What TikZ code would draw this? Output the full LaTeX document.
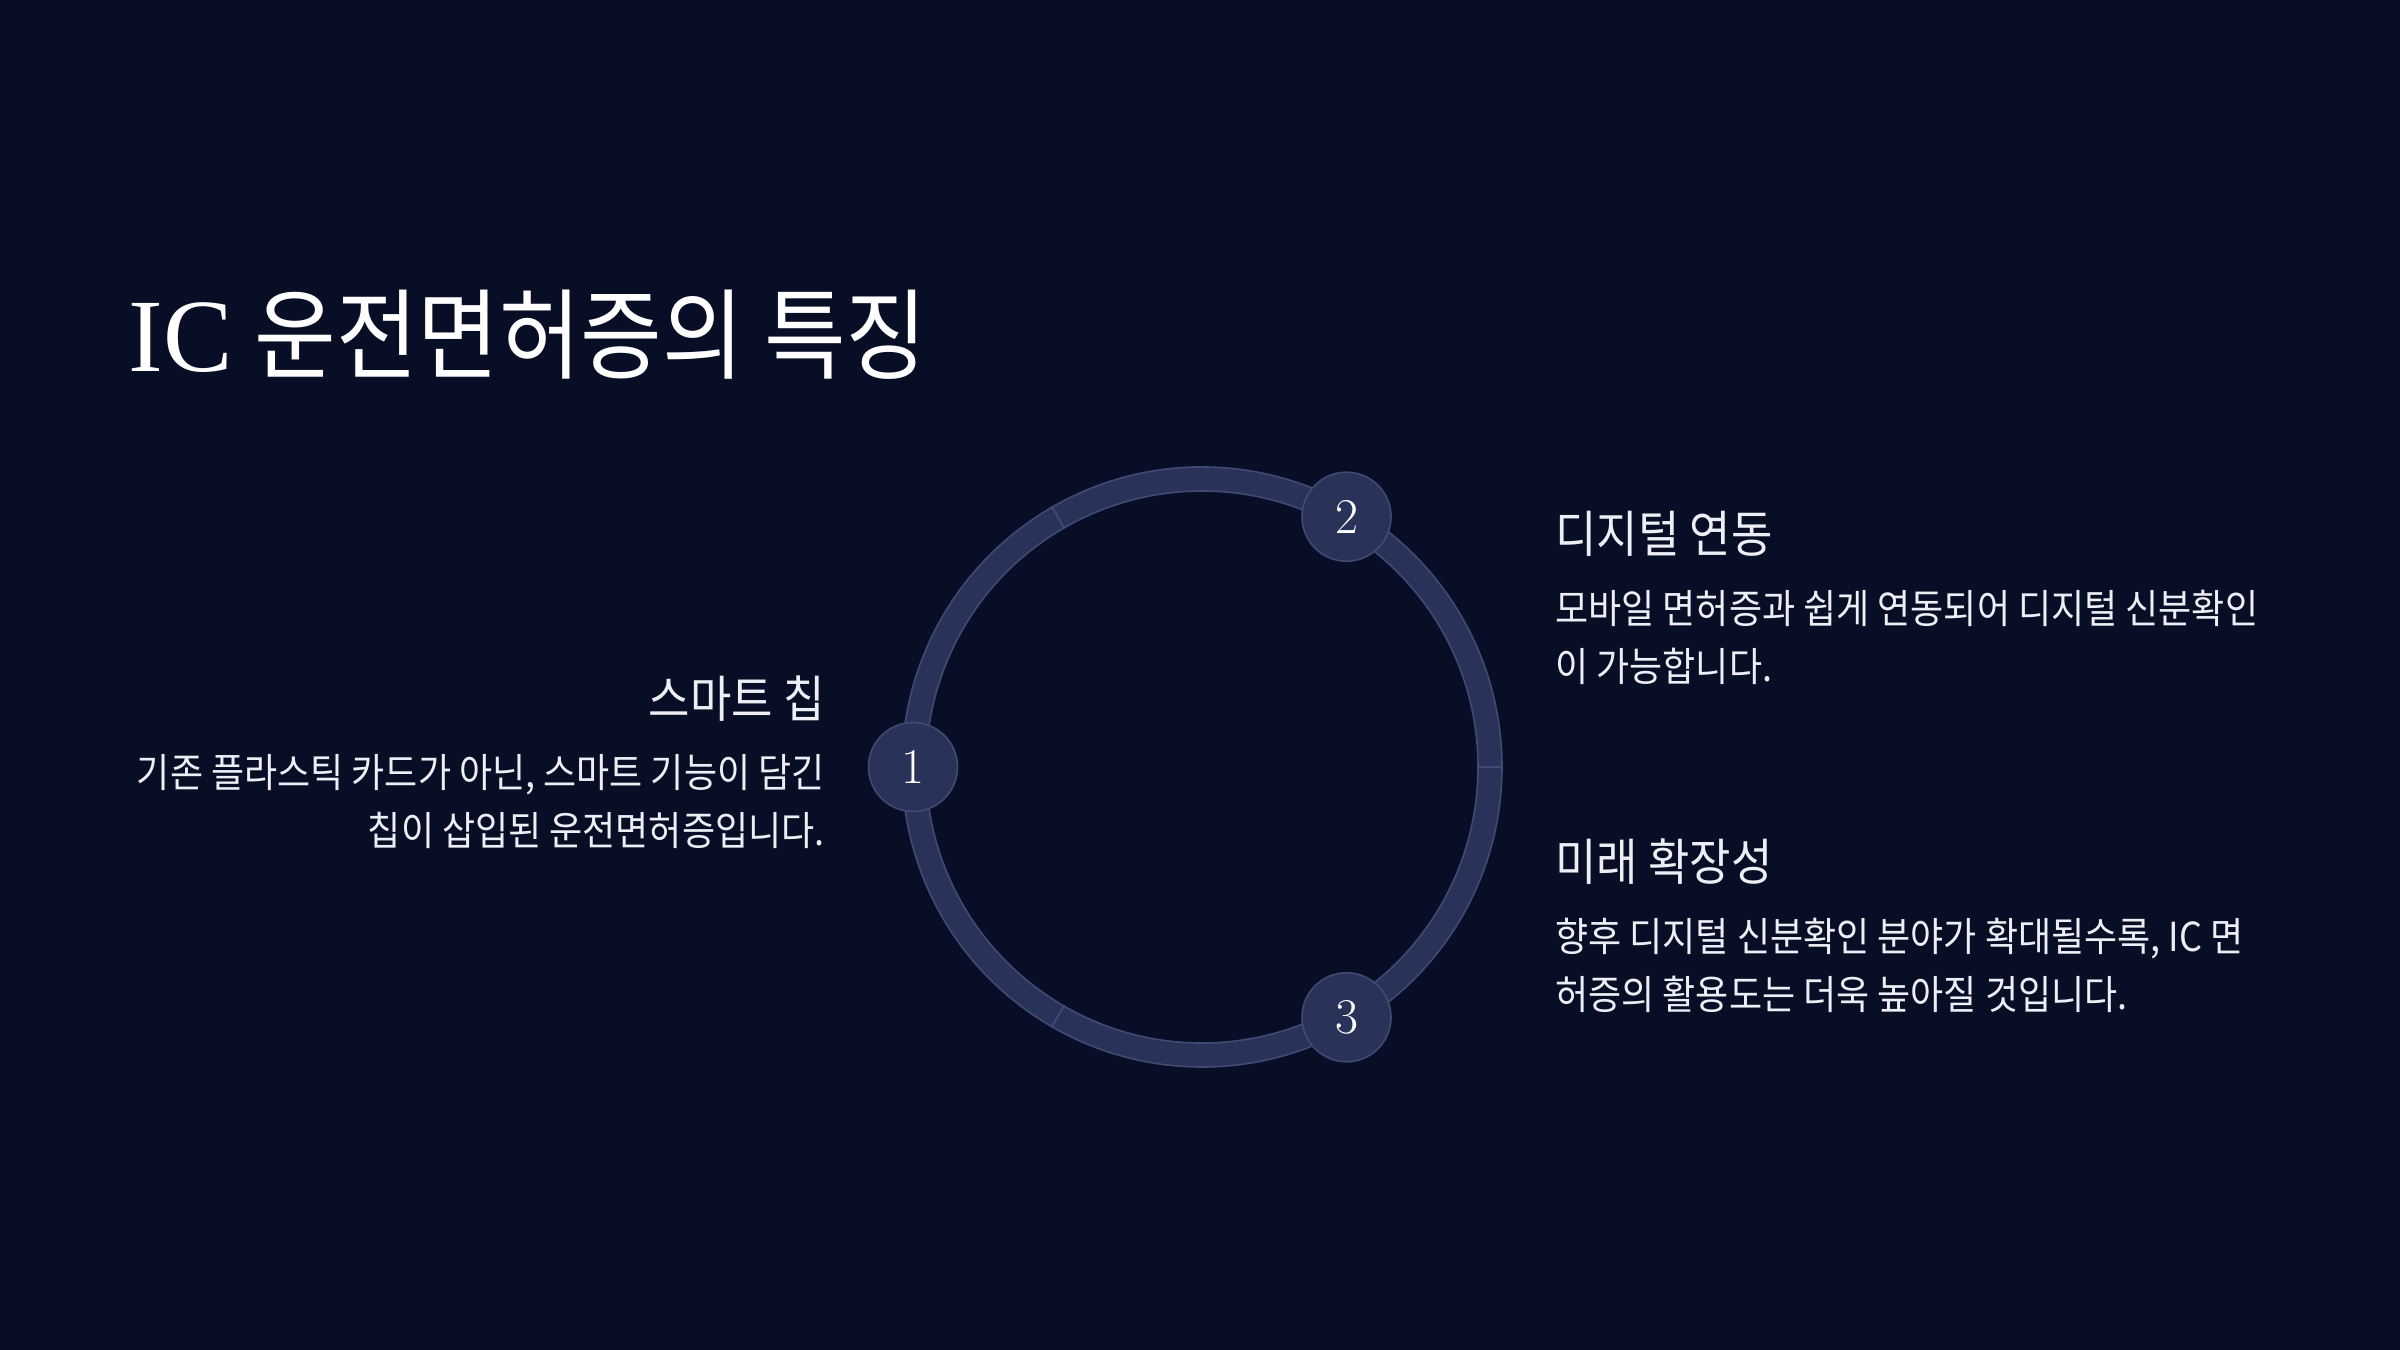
\documentclass[tikz,border=0pt]{standalone}
\usepackage{fontspec}
\newfontfamily\kr[FakeStretch=0.9]{Noto Sans CJK KR}
\newfontfamily\titleserif{Liberation Serif}
\usepackage{xcolor}
\usetikzlibrary{positioning}
\definecolor{bgnavy}{RGB}{8,14,37}
\definecolor{ringfill}{RGB}{41,50,88}
\definecolor{ringedge}{RGB}{63,75,117}
\definecolor{txtwhite}{RGB}{238,239,244}

\begin{document}
\begin{tikzpicture}[x=0.5pt,y=0.5pt,
  seg/.style={fill=ringfill,draw=ringedge,line width=0.8pt},
  num/.style={circle,fill=ringfill,draw=ringedge,line width=0.8pt,minimum size=44.5pt,
              inner sep=0pt,text=white,font=\fontsize{25pt}{25pt}\selectfont},
  head/.style={text=txtwhite,inner sep=0pt,font=\kr\fontsize{25pt}{25pt}\selectfont},
  body/.style={text=txtwhite,inner sep=0pt,font=\kr\fontsize{20pt}{20pt}\selectfont}]
\fill[bgnavy] (0,0) rectangle (2400,1350);
\node[anchor=base west,inner sep=0pt,text=white,font=\fontsize{49.3pt}{50pt}\selectfont]
  (title) at (128,978) {{\titleserif\fontsize{52pt}{52pt}\selectfont IC}\hspace{11pt}{\kr 운전면허증의 특징}};
% ring of three segments
\begin{scope}[shift={(1202,583)}]
  \foreach \a in {0,120,240}{
    \draw[seg] (\a:276) arc[start angle=\a,end angle=\a+120,radius=276]
      -- (\a+120:300) arc[start angle=\a+120,end angle=\a,radius=300] -- cycle;}
  \node[num] (n1) at (180:289) {1};
  \node[num] (n2) at (60:289) {2};
  \node[num] (n3) at (-60:289) {3};
\end{scope}
% left text
\node[head,anchor=base east] (h1) at (825,632) {스마트 칩};
\node[body,anchor=base east] (b1a) at (825,562) {기존 플라스틱 카드가 아닌, 스마트 기능이 담긴};
\node[body,anchor=base east] (b1b) at ([yshift=-29pt]b1a.base east) {칩이 삽입된 운전면허증입니다.};
% right text
\node[head,anchor=base west] (h2) at (1555,797) {디지털 연동};
\node[body,anchor=base west] (b2a) at (1555,726) {모바일 면허증과 쉽게 연동되어 디지털 신분확인};
\node[body,anchor=base west] (b2b) at ([yshift=-29pt]b2a.base west) {이 가능합니다.};
\node[head,anchor=base west] (h3) at (1555,469) {미래 확장성};
\node[body,anchor=base west] (b3a) at (1555,398) {향후 디지털 신분확인 분야가 확대될수록, IC 면};
\node[body,anchor=base west] (b3b) at ([yshift=-29pt]b3a.base west) {허증의 활용도는 더욱 높아질 것입니다.};
\end{tikzpicture}
\end{document}
